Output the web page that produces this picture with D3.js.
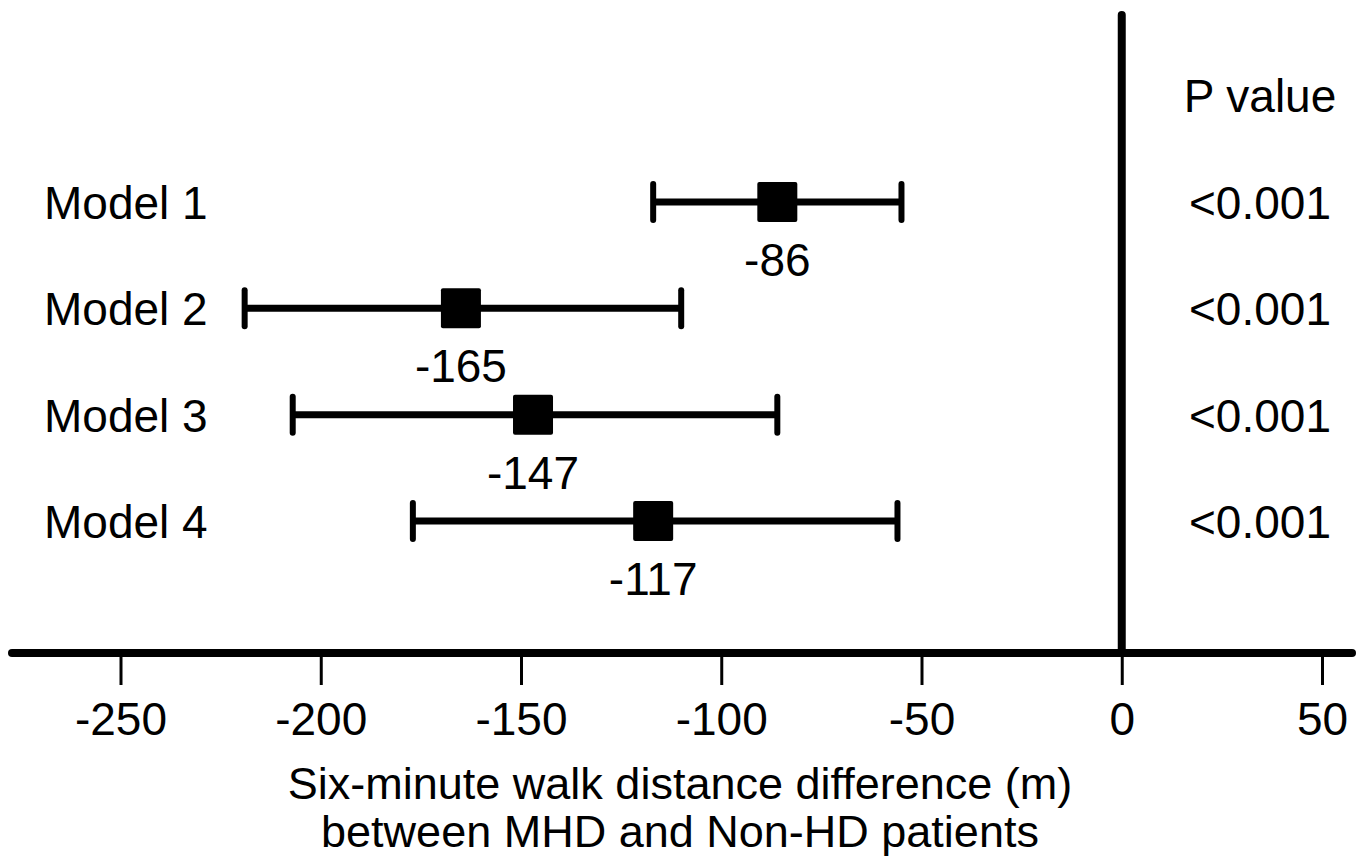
<!DOCTYPE html>
<html>
<head>
<meta charset="utf-8">
<script src="https://cdn.jsdelivr.net/npm/d3@7"></script>
<style>
  body { margin: 0; background: #fff; }
  text { font-family: "Liberation Sans", Arial, sans-serif; fill: #000; }
</style>
</head>
<body>
<div id="chart"></div>
<script>
// data
const models = ['Model 1', 'Model 2', 'Model 3', 'Model 4'];
const estimates = [-86, -165, -147, -117];
const lower = [-117, -219, -207, -177];
const upper = [-55, -110, -86, -56];
const pValues = ['<0.001', '<0.001', '<0.001', '<0.001'];
const ticks = [-250, -200, -150, -100, -50, 0, 50];

const width = 1365, height = 857;

const svg = d3.select('#chart').append('svg')
    .attr('width', width)
    .attr('height', height);

const x = d3.scaleLinear().domain([-250, 50]).range([120.5, 1322]);
const y = d3.scalePoint().domain(models).range([202, 521]);
const axisY = 653;

// x axis
const xAxis = d3.axisBottom(x).tickValues(ticks).tickSize(32).tickPadding(17).tickFormat(d3.format('d'));
const xAxisG = svg.append('g')
    .attr('transform', `translate(0,${axisY})`)
    .call(xAxis);
xAxisG.select('.domain').remove();
xAxisG.selectAll('.tick line').attr('stroke', '#000').attr('stroke-width', 3);
xAxisG.selectAll('.tick text')
    .attr('font-size', '46px')
    .attr('font-family', '"Liberation Sans", Arial, sans-serif')
    .text(d => d < 0 ? '-' + Math.abs(d) : d);

svg.append('line')
    .attr('x1', 12).attr('x2', 1352)
    .attr('y1', axisY).attr('y2', axisY)
    .attr('stroke', '#000').attr('stroke-width', 8)
    .attr('stroke-linecap', 'round');

// reference line at zero
svg.append('line')
    .attr('x1', x(0)).attr('x2', x(0))
    .attr('y1', 15).attr('y2', axisY)
    .attr('stroke', '#000').attr('stroke-width', 8)
    .attr('stroke-linecap', 'round');

const rows = models.map((m, i) => ({ model: m, est: estimates[i], lo: lower[i], hi: upper[i], p: pValues[i] }));

const g = svg.selectAll('.row')
    .data(rows)
    .enter().append('g')
    .attr('class', 'row');

// CI line
g.append('line')
    .attr('x1', d => x(d.lo)).attr('x2', d => x(d.hi))
    .attr('y1', d => y(d.model)).attr('y2', d => y(d.model))
    .attr('stroke', '#000').attr('stroke-width', 7);

// caps
['lo', 'hi'].forEach(k => {
    g.append('line')
        .attr('x1', d => x(d[k])).attr('x2', d => x(d[k]))
        .attr('y1', d => y(d.model) - 18).attr('y2', d => y(d.model) + 18)
        .attr('stroke', '#000').attr('stroke-width', 6)
        .attr('stroke-linecap', 'round');
});

// point estimate
const sq = 40;
g.append('rect')
    .attr('x', d => x(d.est) - sq / 2)
    .attr('y', d => y(d.model) - sq / 2)
    .attr('width', sq).attr('height', sq)
    .attr('rx', 2)
    .attr('fill', '#000');

// estimate label
g.append('text')
    .attr('x', d => x(d.est))
    .attr('y', d => y(d.model) + 74)
    .attr('text-anchor', 'middle')
    .attr('font-size', '46px')
    .text(d => d.est);

// model label
g.append('text')
    .attr('x', 44)
    .attr('y', d => y(d.model) + 17)
    .attr('font-size', '46px')
    .text(d => d.model);

// p value
g.append('text')
    .attr('x', 1260)
    .attr('y', d => y(d.model) + 17)
    .attr('text-anchor', 'middle')
    .attr('font-size', '46px')
    .text(d => d.p);

svg.append('text')
    .attr('x', 1260).attr('y', 112)
    .attr('text-anchor', 'middle')
    .attr('font-size', '46px')
    .text('P value');

// axis title
const titleX = 680;
const title = svg.append('text')
    .attr('text-anchor', 'middle')
    .attr('font-size', '45px');
title.append('tspan').attr('x', titleX).attr('y', 799).text('Six-minute walk distance difference (m)');
title.append('tspan').attr('x', titleX).attr('y', 847).text('between MHD and Non-HD patients');
</script>
</body>
</html>
